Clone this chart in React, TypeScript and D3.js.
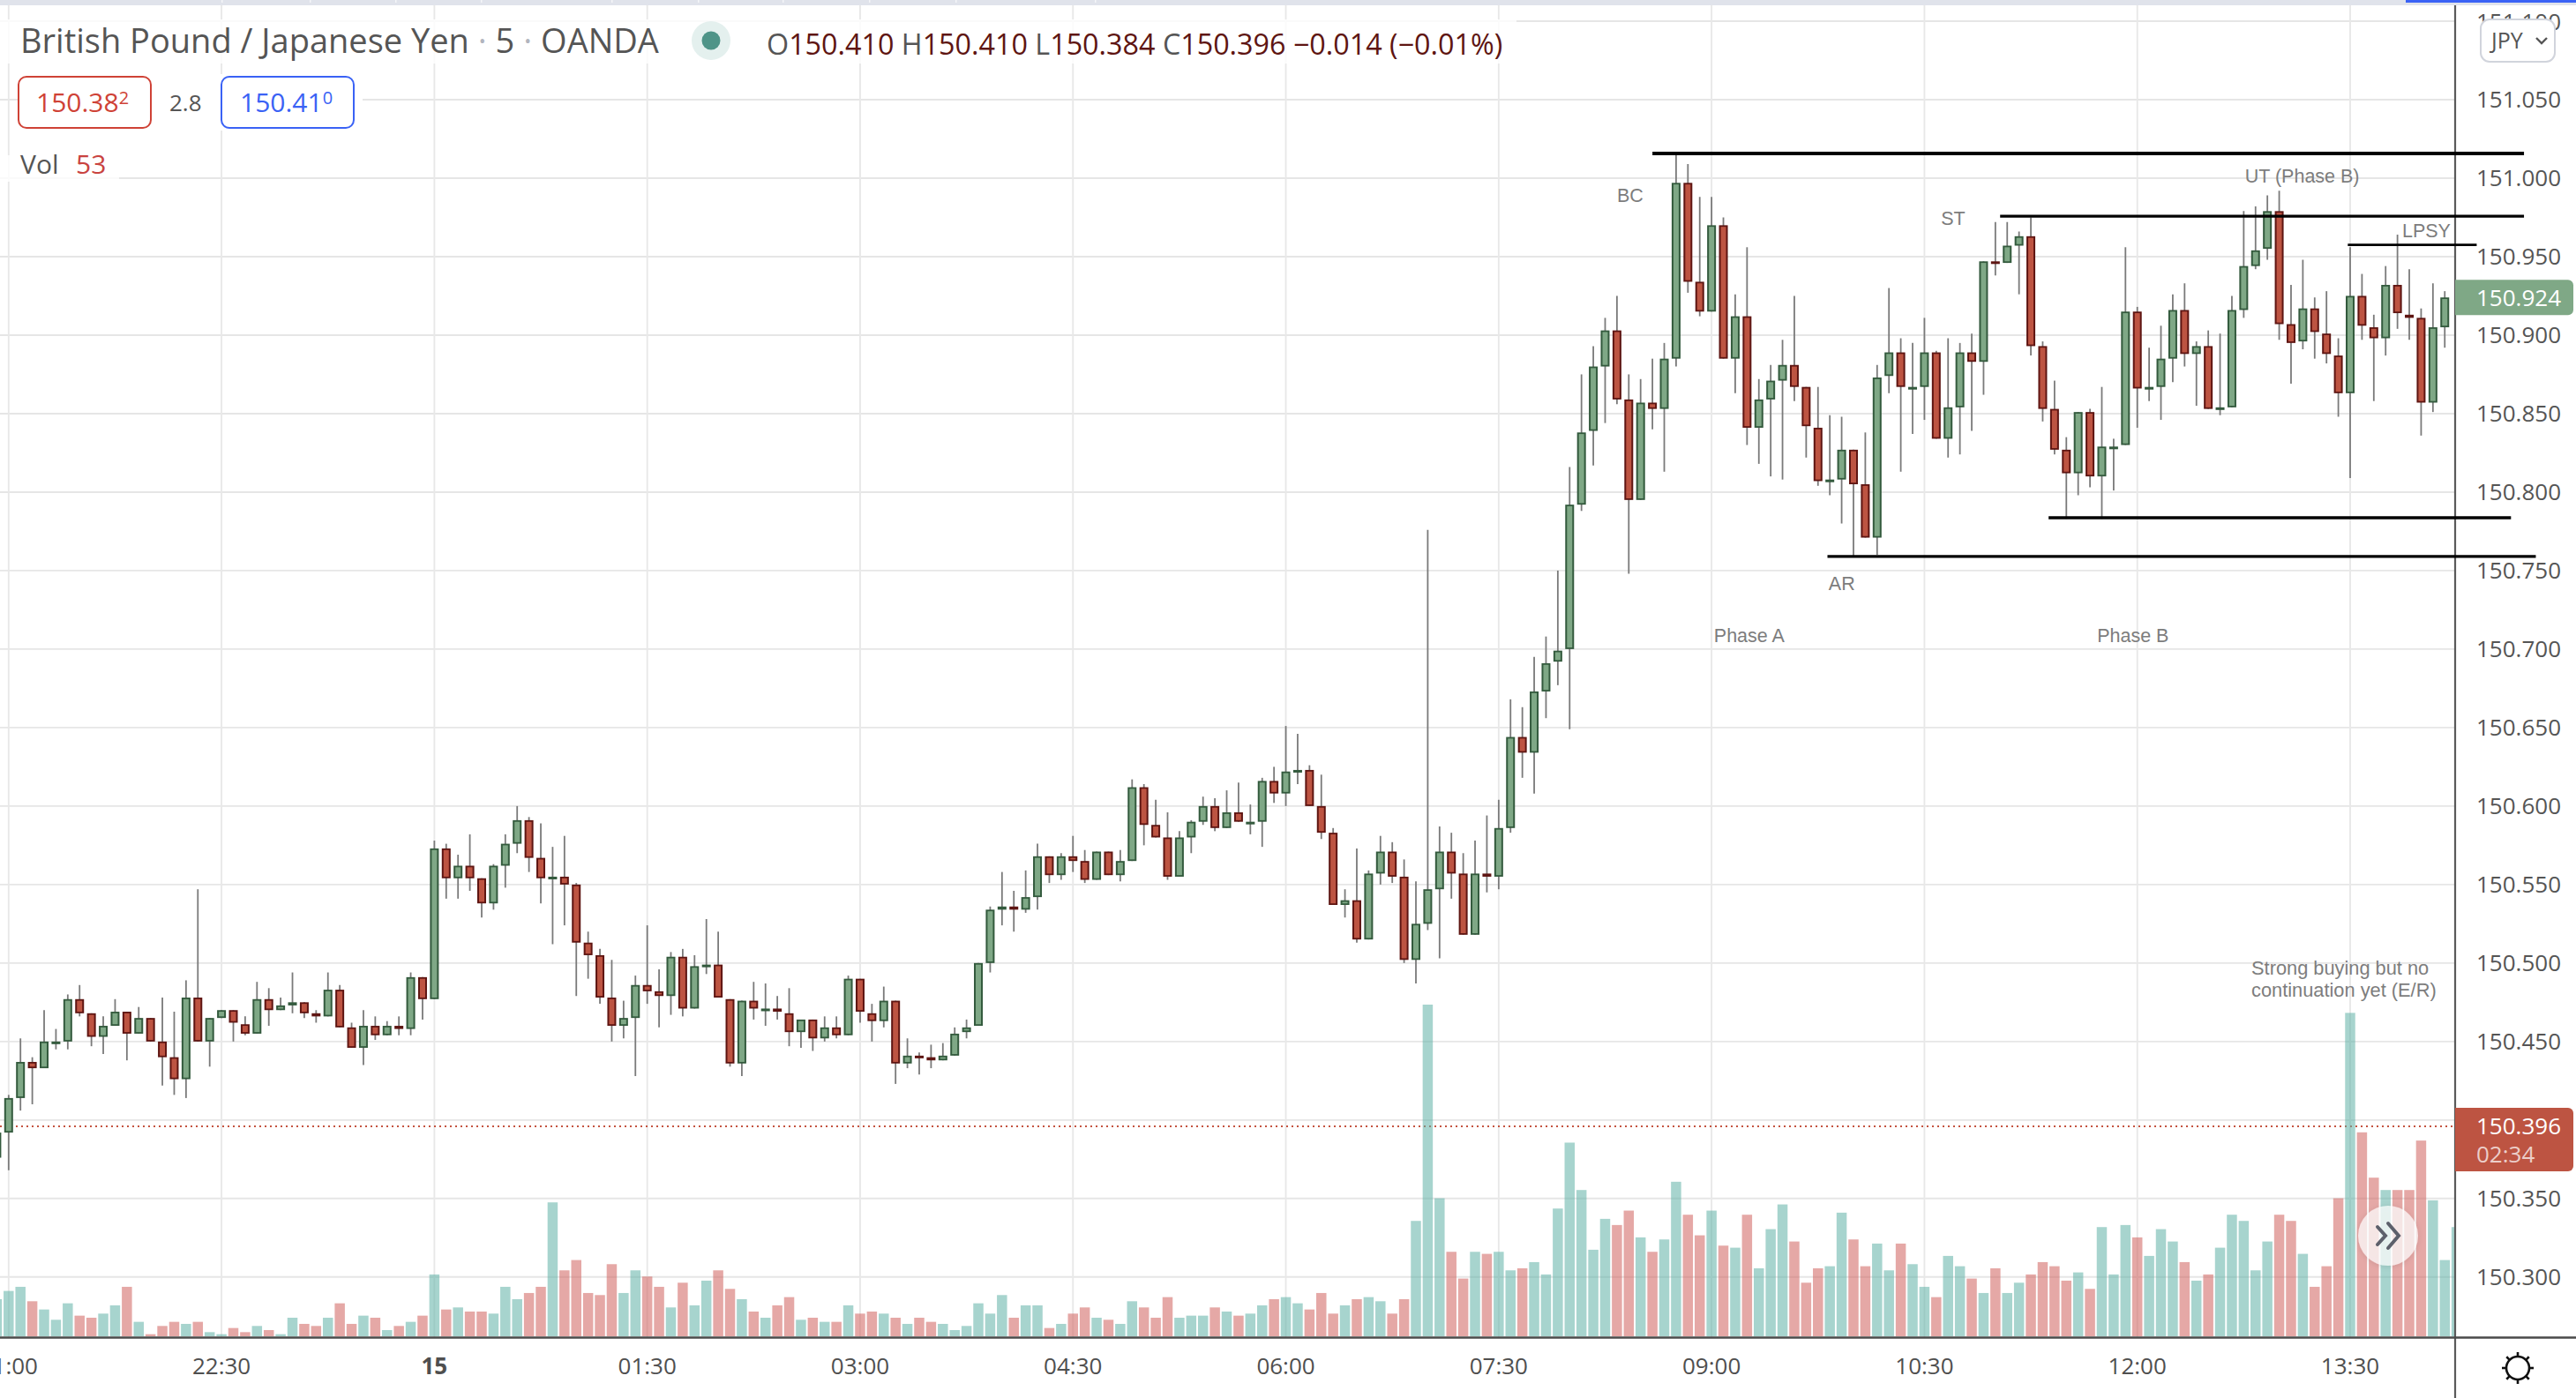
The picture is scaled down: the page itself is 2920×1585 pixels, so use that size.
import { useEffect, useRef } from "react";
import * as d3 from "d3";

// prices are stored as thousandths above 150 (376 => 150.376), first bar is index -1
const FIRST_INDEX = -1;

const opens = [376,
  392,414,437,433,450,450,477,468,453,460,
  469,455,465,450,440,426,478,450,465,470,
  461,455,477,470,473,475,468,466,483,459,
  446,460,454,460,458,491,477,573,554,562,
  554,538,562,576,591,567,555,555,550,513,
  505,478,460,465,486,482,479,504,471,498,
  499,477,436,476,471,471,468,456,464,452,
  459,454,490,468,463,476,436,441,440,438,
  441,456,460,500,534,536,534,542,568,556,
  568,565,553,571,556,565,612,588,580,555,
  580,590,600,586,596,590,590,616,608,622,
  623,600,583,537,540,515,557,571,555,502,
  525,547,571,557,518,557,555,586,644,634,
  673,692,700,792,839,880,903,859,795,857,
  853,885,997,934,915,970,885,912,841,859,
  871,881,867,841,808,808,827,805,771,874,
  889,867,867,889,834,854,889,883,947,946,
  957,963,893,853,827,812,851,810,829,830,
  915,866,867,885,916,888,893,854,854,916,
  944,955,979,907,896,917,901,887,863,925,
  905,898,932,913,911,857,905];

const highs = [392,
  416,452,440,470,458,480,486,468,466,477,
  469,472,465,478,469,489,547,465,470,470,
  466,488,484,478,494,475,470,494,486,462,
  470,466,463,466,494,491,578,576,569,582,
  554,563,582,600,593,589,574,581,551,520,
  509,502,476,492,524,496,507,509,505,528,
  520,477,476,488,487,479,484,464,464,466,
  466,492,490,474,485,476,452,443,448,449,
  459,464,500,536,558,546,559,576,568,570,
  581,572,571,571,572,617,614,604,596,584,
  591,606,605,610,615,601,618,625,651,646,
  626,620,586,547,573,559,581,577,566,552,
  776,587,583,570,578,594,604,668,663,695,
  708,750,816,875,893,911,925,875,872,885,
  895,1015,1009,988,988,975,926,956,872,881,
  897,925,867,867,849,848,827,838,881,930,
  898,895,911,890,898,895,901,947,972,972,
  966,975,896,871,835,851,853,867,834,956,
  918,892,906,926,933,896,903,901,925,979,
  982,989,992,932,948,924,928,898,956,939,
  913,944,964,942,917,933,928];

const lows = [376,
  368,406,410,433,445,445,466,447,442,460,
  438,455,450,422,416,414,450,434,465,450,
  454,455,460,470,468,465,462,466,459,446,
  435,451,454,454,454,464,477,541,541,546,
  529,534,548,570,558,538,512,524,479,490,
  474,450,452,428,474,459,467,466,471,493,
  478,434,428,464,460,464,447,446,444,450,
  452,454,462,450,459,423,433,429,433,438,
  441,452,460,494,524,520,532,534,551,553,
  558,551,553,556,552,565,575,580,553,555,
  570,588,584,586,590,582,574,602,600,614,
  600,579,537,529,513,515,550,551,500,487,
  521,503,541,518,518,545,547,583,618,608,
  656,677,649,788,817,844,856,748,795,840,
  813,880,927,912,915,885,863,830,818,810,
  808,858,822,804,798,780,759,771,760,863,
  813,837,846,834,822,824,839,862,938,946,
  926,887,845,824,783,798,803,783,801,830,
  841,858,846,870,880,855,853,849,854,911,
  942,948,897,869,891,885,882,848,809,897,
  858,887,904,897,836,851,892];

const closes = [392,
  414,437,433,450,450,477,468,453,460,469,
  455,465,450,440,426,478,450,465,470,462,
  455,477,470,473,475,468,466,483,459,446,
  460,454,460,458,491,477,573,554,562,554,
  538,562,576,591,567,554,555,550,513,505,
  478,460,465,486,482,479,504,471,498,499,
  478,436,476,471,471,469,456,464,452,459,
  454,490,469,463,476,436,441,440,438,441,
  455,459,500,534,536,534,542,568,556,568,
  565,553,571,556,565,612,588,580,555,580,
  590,600,586,596,590,590,616,608,622,623,
  600,583,537,540,515,557,571,555,502,525,
  547,571,557,518,557,555,586,644,634,673,
  691,699,792,838,880,903,859,795,857,853,
  885,997,934,915,970,885,912,841,859,871,
  881,867,842,807,808,827,805,771,873,889,
  867,867,889,834,854,889,883,947,946,957,
  963,893,853,827,812,851,810,829,829,915,
  866,867,885,916,888,893,853,854,916,944,
  954,979,907,895,917,902,888,863,925,906,
  898,932,914,911,857,905,924];

// one more bar than the candles: the last one sits under the price axis
const volumes = [18,
  22,24,17,13,8,16,10,9,11,15,
  24,7,1,5,7,6,7,2,1,4,
  2,5,3,1,9,6,5,9,16,6,
  10,9,3,5,7,10,30,13,14,12,
  12,11,24,18,21,24,65,32,37,21,
  20,35,21,32,29,24,14,26,15,27,
  32,23,18,12,9,15,19,8,9,7,
  7,15,11,12,11,9,6,9,7,6,
  3,5,16,11,20,9,15,15,4,6,
  11,14,9,8,6,17,14,9,19,9,
  10,10,14,12,10,11,15,18,19,16,
  13,21,11,15,18,19,17,11,18,56,
  161,67,41,28,41,40,41,32,33,36,
  30,62,94,71,42,57,54,61,48,41,
  47,75,59,49,61,44,43,59,33,52,
  64,46,26,33,34,60,47,34,45,32,
  45,35,24,19,39,34,28,21,33,21,
  26,30,36,34,27,31,23,53,30,54,
  48,39,52,46,36,27,30,43,59,56,
  32,46,59,56,40,24,34,67,157,99,
  77,71,71,71,95,66,37,53];

const priceTicks = [151.1,151.05,151.0,150.95,150.9,150.85,150.8,150.75,150.7,150.65,150.6,150.55,150.5,150.45,150.4,150.35,150.3];
const timeTickIndex = [0,18,36,54,72,90,108,126,144,162,180,198];
const timeTickLabels = ["21:00","22:30","15","01:30","03:00","04:30","06:00","07:30","09:00","10:30","12:00","13:30"];

// drawn lines: price, from bar, to bar
const levelPrices = [151.0157,150.9757,150.9575,150.7837,150.759];
const levelStarts = [139,168.4,197.8,172.5,153.8];
const levelEnds = [212.7,212.7,208.7,211.6,213.7];
const levelWidths = [4,3.2,2.8,3.4,3.4];

const noteTexts = ["BC","ST","AR","UT (Phase B)","LPSY","Phase A","Phase B","Strong buying but no","continuation yet (E/R)"];
const noteBars = [136.0,163.4,153.9,189.1,202.4,144.2,176.6,189.65,189.65];
const notePrices = [150.985,150.970,150.7375,150.997,150.9625,150.7042,150.7042,150.4925,150.4785];

const tabEdges = [251,351,448,545,693,791,887,985,1083,1241];

const LAST_PRICE = 150.396;
const BID_PRICE = 150.924;

const UI_FONT = "'Open Sans', sans-serif";
const NOTE_FONT = "'Liberation Sans', Arial, sans-serif";

export default function App() {
  const svgRef = useRef<SVGSVGElement>(null);

  useEffect(() => {
    if (!svgRef.current) return;
    const svg = d3.select(svgRef.current);
    svg.selectAll("*").remove();

    const width = 2920;
    const height = 1585;
    const axisX = 2783;
    const axisY = 1516.5;
    const volBase = 1515;

    const x = d3.scaleLinear().domain([0, 198]).range([9.8, 2664]);
    const y = d3.scaleLinear().domain([150.3, 151.1]).range([1447.8, 24]);
    const v = d3.scaleLinear().domain([0, 161]).range([volBase, 1139]);
    const px = (t: number) => 150 + t / 1000;

    svg.append("rect").attr("width", width).attr("height", height).attr("fill", "#fff");

    svg.append("clipPath").attr("id", "pane")
      .append("rect").attr("x", 0).attr("y", 6).attr("width", axisX).attr("height", axisY - 6);

    // top strip of the site
    svg.append("rect").attr("width", width).attr("height", 6).attr("fill", "#e0e3eb");
    svg.append("rect").attr("x", 2727).attr("width", width - 2727).attr("height", 3).attr("fill", "#3a62f5");
    svg.selectAll(".tab").data(tabEdges).enter().append("rect")
      .attr("x", (d) => d).attr("width", 1.5).attr("height", 3).attr("fill", "#f4f5f8");

    const pane = svg.append("g").attr("clip-path", "url(#pane)");

    // grid
    pane.selectAll(".hgrid").data(priceTicks).enter().append("line")
      .attr("x1", 0).attr("x2", axisX)
      .attr("y1", (d) => y(d)).attr("y2", (d) => y(d))
      .attr("stroke", "#e6e6e6").attr("stroke-width", 1.9);
    pane.selectAll(".vgrid").data(timeTickIndex).enter().append("line")
      .attr("x1", (d) => x(d)).attr("x2", (d) => x(d))
      .attr("y1", 6).attr("y2", axisY)
      .attr("stroke", "#e8e8e8").attr("stroke-width", 1.9);

    // legend rows wash the grid out
    pane.append("rect").attr("x", 0).attr("y", 22).attr("width", 1719).attr("height", 50).attr("fill", "#fff").attr("fill-opacity", 0.8);
    pane.append("rect").attr("x", 21).attr("y", 84).attr("width", 390).attr("height", 64).attr("fill", "#fff");
    pane.append("rect").attr("x", 0).attr("y", 176).attr("width", 135).attr("height", 30).attr("fill", "#fff").attr("fill-opacity", 0.8);

    // current price line
    pane.append("line")
      .attr("x1", 0).attr("x2", axisX)
      .attr("y1", y(LAST_PRICE)).attr("y2", y(LAST_PRICE))
      .attr("stroke", "#c4533f").attr("stroke-width", 2).attr("stroke-dasharray", "2,4");

    // volume
    pane.selectAll(".vol").data(volumes).enter().append("rect")
      .attr("x", (_, i) => x(i + FIRST_INDEX) - 5.75)
      .attr("width", 11.5)
      .attr("y", (d) => v(d))
      .attr("height", (d) => volBase - v(d))
      .attr("fill", (_, i) => (i < closes.length && closes[i] < opens[i] ? "#cf605c" : "#5fb0a5"))
      .attr("fill-opacity", 0.55);

    // candles
    const bars = d3.range(opens.length);
    const candle = pane.selectAll(".candle").data(bars).enter().append("g");
    candle.append("line")
      .attr("x1", (i) => x(i + FIRST_INDEX)).attr("x2", (i) => x(i + FIRST_INDEX))
      .attr("y1", (i) => y(px(highs[i]))).attr("y2", (i) => y(px(lows[i])))
      .attr("stroke", "#7a7a7a").attr("stroke-width", 1.8);
    const top = (i: number) => y(px(Math.max(opens[i], closes[i])));
    const bodyH = (i: number) => Math.max(3, Math.abs(y(px(opens[i])) - y(px(closes[i]))));
    candle.append("rect")
      .attr("x", (i) => x(i + FIRST_INDEX) - 5)
      .attr("width", 10)
      .attr("y", (i) => top(i))
      .attr("height", (i) => bodyH(i))
      .attr("fill", (i) => (closes[i] < opens[i] ? "#5e1512" : "#335a3d"));
    candle.append("rect")
      .attr("x", (i) => x(i + FIRST_INDEX) - 3)
      .attr("width", 6)
      .attr("y", (i) => top(i) + 1.8)
      .attr("height", (i) => Math.max(0, bodyH(i) - 3.6))
      .attr("fill", (i) => (closes[i] < opens[i] ? "#bd5442" : "#7fa886"));

    // annotations
    svg.selectAll(".note").data(noteTexts).enter().append("text")
      .attr("x", (_, i) => x(noteBars[i]))
      .attr("y", (_, i) => y(notePrices[i]))
      .attr("font-family", NOTE_FONT)
      .attr("font-size", (_, i) => (i >= 7 ? 21.8 : 21.5))
      .attr("fill", "#7d7d7d")
      .text((d) => d);

    // axes
    svg.append("line").attr("x1", axisX).attr("x2", axisX).attr("y1", 6).attr("y2", height)
      .attr("stroke", "#5a5a5a").attr("stroke-width", 2.2);
    svg.append("line").attr("x1", 0).attr("x2", width).attr("y1", axisY).attr("y2", axisY)
      .attr("stroke", "#4a4a4a").attr("stroke-width", 2.6);

    svg.selectAll(".ptick").data(priceTicks.filter((d) => d !== 150.4)).enter().append("text")
      .attr("x", 2807).attr("y", (d) => y(d) + 9.5)
      .attr("font-family", UI_FONT).attr("font-size", 26).attr("fill", "#555")
      .text((d) => d3.format(".3f")(d));

    svg.selectAll(".ttick").data(timeTickLabels).enter().append("text")
      .attr("x", (_, i) => x(timeTickIndex[i]))
      .attr("y", 1558)
      .attr("text-anchor", "middle")
      .attr("font-family", UI_FONT).attr("font-size", 26)
      .attr("font-weight", (d) => (d === "15" ? 700 : 400))
      .attr("fill", "#4f4f4f")
      .text((d) => d);

    // drawn levels, they run over the price axis
    svg.selectAll(".level").data(levelPrices).enter().append("line")
      .attr("x1", (_, i) => x(levelStarts[i])).attr("x2", (_, i) => x(levelEnds[i]))
      .attr("y1", (d) => y(d)).attr("y2", (d) => y(d))
      .attr("stroke", "#000").attr("stroke-width", (_, i) => levelWidths[i]);

    // price tags
    svg.append("path")
      .attr("d", `M${axisX},${y(BID_PRICE) - 20}h128a6,6 0 0 1 6,6v28a6,6 0 0 1 -6,6h-128z`)
      .attr("fill", "#7fa886");
    svg.append("text").attr("x", 2807).attr("y", y(BID_PRICE) + 9.5)
      .attr("font-family", UI_FONT).attr("font-size", 26).attr("fill", "#fff")
      .text(d3.format(".3f")(BID_PRICE));
    svg.append("path")
      .attr("d", `M${axisX},1256h128a6,6 0 0 1 6,6v60a6,6 0 0 1 -6,6h-128z`)
      .attr("fill", "#bd5442");
    svg.append("text").attr("x", 2807).attr("y", y(LAST_PRICE) + 9.5)
      .attr("font-family", UI_FONT).attr("font-size", 26).attr("fill", "#fff")
      .text(d3.format(".3f")(LAST_PRICE));
    svg.append("text").attr("x", 2807).attr("y", 1318)
      .attr("font-family", UI_FONT).attr("font-size", 26).attr("fill", "#fff").attr("fill-opacity", 0.72)
      .text("02:34");

    // currency button
    svg.append("rect").attr("x", 2812).attr("y", 22).attr("width", 84).attr("height", 48).attr("rx", 10)
      .attr("fill", "#fff").attr("stroke", "#d1d4dc").attr("stroke-width", 2);
    svg.append("text").attr("x", 2824).attr("y", 55)
      .attr("font-family", UI_FONT).attr("font-size", 25).attr("fill", "#555").text("JPY");
    svg.append("path").attr("d", "M2875,43l6,6l6,-6").attr("fill", "none").attr("stroke", "#555").attr("stroke-width", 2.4);

    // legend
    const title = svg.append("text").attr("x", 23).attr("y", 60)
      .attr("font-family", UI_FONT).attr("font-size", 38).attr("fill", "#555");
    title.append("tspan").text("British Pound / Japanese Yen ");
    title.append("tspan").attr("fill", "#b2b5be").text("·");
    title.append("tspan").text(" 5 ");
    title.append("tspan").attr("fill", "#b2b5be").text("·");
    title.append("tspan").text(" OANDA");

    svg.append("circle").attr("cx", 806).attr("cy", 46).attr("r", 22).attr("fill", "#e4f0ee");
    svg.append("circle").attr("cx", 806).attr("cy", 46).attr("r", 10.5).attr("fill", "#4f9488");

    const ohlc = svg.append("text").attr("x", 869).attr("y", 62)
      .attr("font-family", UI_FONT).attr("font-size", 32.3).attr("fill", "#5e1512");
    [["O", "150.410"], ["H", "150.410"], ["L", "150.384"], ["C", "150.396"]].forEach(([k, val]) => {
      ohlc.append("tspan").attr("fill", "#555").text(k);
      ohlc.append("tspan").text(val + " ");
    });
    ohlc.append("tspan").text("−0.014 (−0.01%)");

    svg.append("rect").attr("x", 21).attr("y", 87).attr("width", 150).attr("height", 58).attr("rx", 9)
      .attr("fill", "#fff").attr("stroke", "#cf4236").attr("stroke-width", 2);
    const bid = svg.append("text").attr("x", 41).attr("y", 127)
      .attr("font-family", UI_FONT).attr("font-size", 30).attr("fill", "#cf4236");
    bid.append("tspan").text("150.38");
    bid.append("tspan").attr("font-size", 20).attr("dy", -9).text("2");

    svg.append("text").attr("x", 192).attr("y", 126)
      .attr("font-family", UI_FONT).attr("font-size", 26).attr("fill", "#555").text("2.8");

    svg.append("rect").attr("x", 251).attr("y", 87).attr("width", 150).attr("height", 58).attr("rx", 9)
      .attr("fill", "#fff").attr("stroke", "#3a62f5").attr("stroke-width", 2);
    const ask = svg.append("text").attr("x", 272).attr("y", 127)
      .attr("font-family", UI_FONT).attr("font-size", 30).attr("fill", "#3a62f5");
    ask.append("tspan").text("150.41");
    ask.append("tspan").attr("font-size", 20).attr("dy", -9).text("0");

    svg.append("text").attr("x", 23).attr("y", 197)
      .attr("font-family", UI_FONT).attr("font-size", 30).attr("fill", "#555").text("Vol");
    svg.append("text").attr("x", 86).attr("y", 197)
      .attr("font-family", UI_FONT).attr("font-size", 30).attr("fill", "#c9433f").text("53");

    // scroll button
    svg.append("defs").append("filter").attr("id", "soft")
      .append("feDropShadow").attr("dx", 0).attr("dy", 1).attr("stdDeviation", 3).attr("flood-color", "#000").attr("flood-opacity", 0.15);
    svg.append("circle").attr("cx", 2707).attr("cy", 1401).attr("r", 34)
      .attr("fill", "#fff").attr("fill-opacity", 0.72).attr("filter", "url(#soft)");
    svg.append("path").attr("d", "M2695,1391l9,10l-9,10M2707,1387l12,14l-12,14")
      .attr("fill", "none").attr("stroke", "#5d606b").attr("stroke-width", 4).attr("stroke-linecap", "round");

    // settings gear
    const gear = svg.append("g").attr("transform", "translate(2854,1551)")
      .attr("stroke", "#111").attr("stroke-width", 2.6).attr("fill", "none");
    gear.append("circle").attr("r", 13);
    gear.selectAll("line").data(d3.range(8)).enter().append("line")
      .attr("x1", (d) => 13 * Math.cos((d * Math.PI) / 4)).attr("y1", (d) => 13 * Math.sin((d * Math.PI) / 4))
      .attr("x2", (d) => 18 * Math.cos((d * Math.PI) / 4)).attr("y2", (d) => 18 * Math.sin((d * Math.PI) / 4));
  }, []);

  return (
    <svg
      ref={svgRef}
      width={2920}
      height={1585}
      viewBox="0 0 2920 1585"
      style={{ position: "absolute", left: 0, top: 0, display: "block" }}
    />
  );
}
